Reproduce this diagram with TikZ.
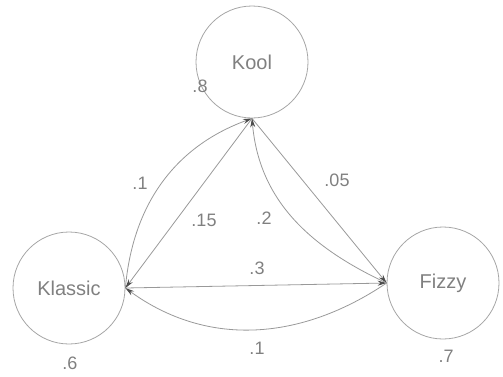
\documentclass[tikz,border=0pt]{standalone}
\usepackage{fontspec}
\setmainfont{Liberation Sans}
\usetikzlibrary{arrows.meta}
\begin{document}
\begin{tikzpicture}[x=1pt,y=-1pt,
  state/.style={circle,draw=black!35,line width=0.8pt,minimum size=112pt,inner sep=0pt,
    text=black!50,font=\fontsize{20}{20}\selectfont},
  prob/.style={text=black!50,font=\fontsize{18}{18}\selectfont,inner sep=1pt},
  trans/.style={draw=black!40,line width=0.8pt,-{Stealth[length=9pt,width=5pt,black!70]}}]
\useasboundingbox (0,0) rectangle (503,376);
% the three states
\node[state] (kool) at (252,62) {Kool};
\node[state] (klassic) at (69,288) {Klassic};
\node[state] (fizzy) at (443,283) {Fizzy};
% transitions
\draw[trans] (klassic.east) -- (fizzy.west);
\draw[trans] (fizzy.west) to[out=214,in=-36] (klassic.east);
\draw[trans] (klassic.east) to[out=85,in=200] (kool.south);
\draw[trans] (kool.south) -- (klassic.east);
\draw[trans] (kool.south) -- (fizzy.west);
\draw[trans] (fizzy.west) to[out=155,in=-85] (kool.south);
% probabilities
\node[prob] (pkool) at (200,86) {.8};
\node[prob] (pkk) at (140,183) {.1};
\node[prob] (pkl) at (204,220) {.15};
\node[prob] (pfk) at (264,218) {.2};
\node[prob] (pkf) at (337,180) {.05};
\node[prob] (pklf) at (257,268) {.3};
\node[prob] (pfkl) at (257,348) {.1};
\node[prob] (pkl2) at (70,363) {.6};
\node[prob] (pfz) at (446,356) {.7};
\end{tikzpicture}
\end{document}
